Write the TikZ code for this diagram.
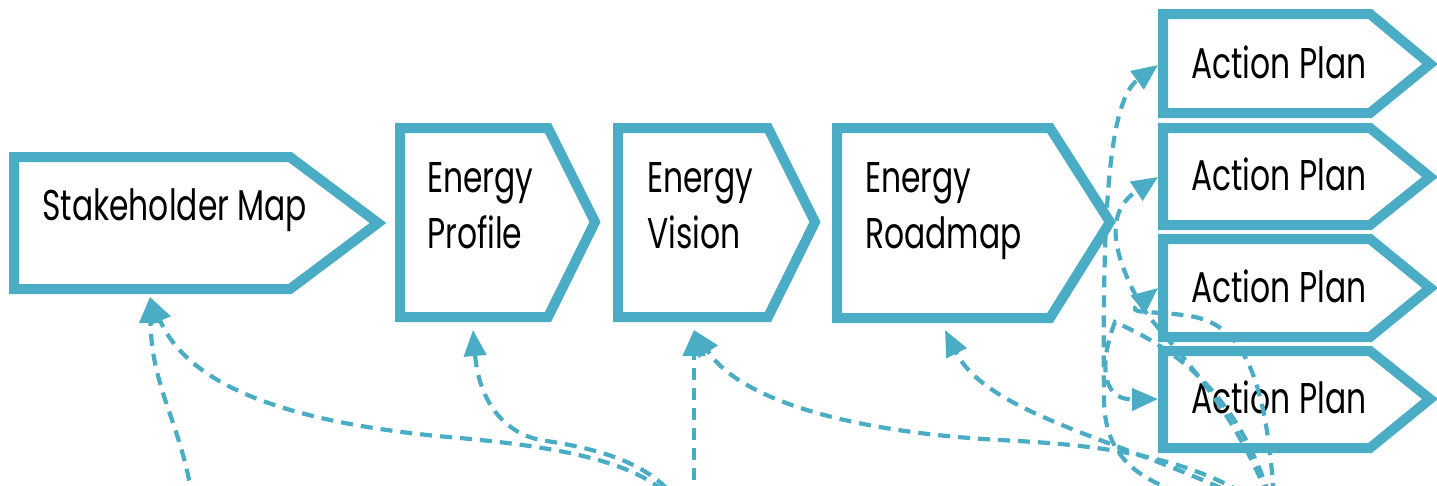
\documentclass[tikz,border=0pt]{standalone}
\usepackage{fontspec}
\setmainfont{Poppins}[FakeStretch=0.73]
\usetikzlibrary{arrows.meta}
\definecolor{aqua}{RGB}{75,172,198}
\begin{document}
\begin{tikzpicture}[x=1pt,y=-1pt,
  box/.style={draw=aqua, line width=10pt, fill=white, line join=miter},
  lbl/.style={anchor=base west, inner sep=0pt, font=\fontsize{43}{56}\selectfont, align=left},
  link/.style={draw=aqua, line width=4.2pt, dash pattern=on 12pt off 8pt,
    -{Triangle[length=26pt,width=22pt]}}]
\useasboundingbox (0,0) rectangle (1437,485);
\clip (0,0) rectangle (1437,485);
% boxes
\draw[box] (14,157) -- (290,157) -- (378,223) -- (290,289) -- (14,289) -- cycle;
\draw[box] (400,128) -- (548,128) -- (595,222) -- (548,317) -- (400,317) -- cycle;
\draw[box] (618,128) -- (768,128) -- (815,222) -- (768,317) -- (618,317) -- cycle;
\draw[box] (837,128) -- (1050,128) -- (1110,222) -- (1050,318) -- (837,318) -- cycle;
\draw[box] (1163,14) -- (1370,14) -- (1430,64) -- (1370,113) -- (1163,113) -- cycle;
\draw[box] (1163,128) -- (1370,128) -- (1430,177) -- (1370,225) -- (1163,225) -- cycle;
\draw[box] (1163,239) -- (1370,239) -- (1430,288) -- (1370,337) -- (1163,337) -- cycle;
\draw[box] (1163,351) -- (1370,351) -- (1430,399) -- (1370,448) -- (1163,448) -- cycle;
% labels (base = baseline of last line)
\node[lbl] (sm) at (42,220) {Stakeholder Map};
\node[lbl] (ep) at (427,248) {Energy\\Profile};
\node[lbl] (ev) at (647,248) {Energy\\Vision};
\node[lbl] (er) at (865,248) {Energy\\Roadmap};
\node[lbl] (ap1) at (1191,78) {Action Plan};
\node[lbl] (ap2) at (1191,190) {Action Plan};
\node[lbl] (ap3) at (1191,302) {Action Plan};
\node[lbl] (ap4) at (1191,413) {Action Plan};
% connector ends
\coordinate (s0) at (197,540);
\coordinate (h1) at (694,540);
\coordinate (h2) at (1275,515);
\coordinate (smin) at (150,297);
\coordinate (epin) at (473,330);
\coordinate (evin) at (694,330);
\coordinate (erin) at (945,330);
\coordinate (ap1in) at (1158,65);
\coordinate (ap2in) at (1158,177);
\coordinate (ap3in) at (1158,288);
\coordinate (ap4in) at (1158,399);
% connectors
\draw[link] (s0) .. controls (190,430) and (152,400) .. (smin);
\draw[link] (h1) .. controls (680,470) and (590,450) .. (460,438) .. controls (300,425) and (190,390) .. (smin);
\draw[link] (h1) .. controls (680,470) and (610,450) .. (540,440) .. controls (495,430) and (478,390) .. (epin);
\draw[link] (h1) -- (evin);
\draw[link] (h2) .. controls (1200,455) and (1100,445) .. (1000,440) .. controls (850,432) and (740,400) .. (evin);
\draw[link] (h2) .. controls (1150,445) and (990,420) .. (erin);
\draw[link] (h2) .. controls (1180,495) and (1105,485) .. (1104,400) .. controls (1102,200) and (1110,100) .. (ap1in);
\draw[link] (h2) .. controls (1230,390) and (1160,340) .. (1138,300) .. controls (1118,262) and (1100,215) .. (ap2in);
\draw[link] (h2) .. controls (1268,380) and (1245,325) .. (1190,316) .. controls (1150,310) and (1125,315) .. (ap3in);
\draw[link] (h2) .. controls (1240,385) and (1165,345) .. (1115,322) .. controls (1100,360) and (1100,400) .. (ap4in);
\end{tikzpicture}
\end{document}
